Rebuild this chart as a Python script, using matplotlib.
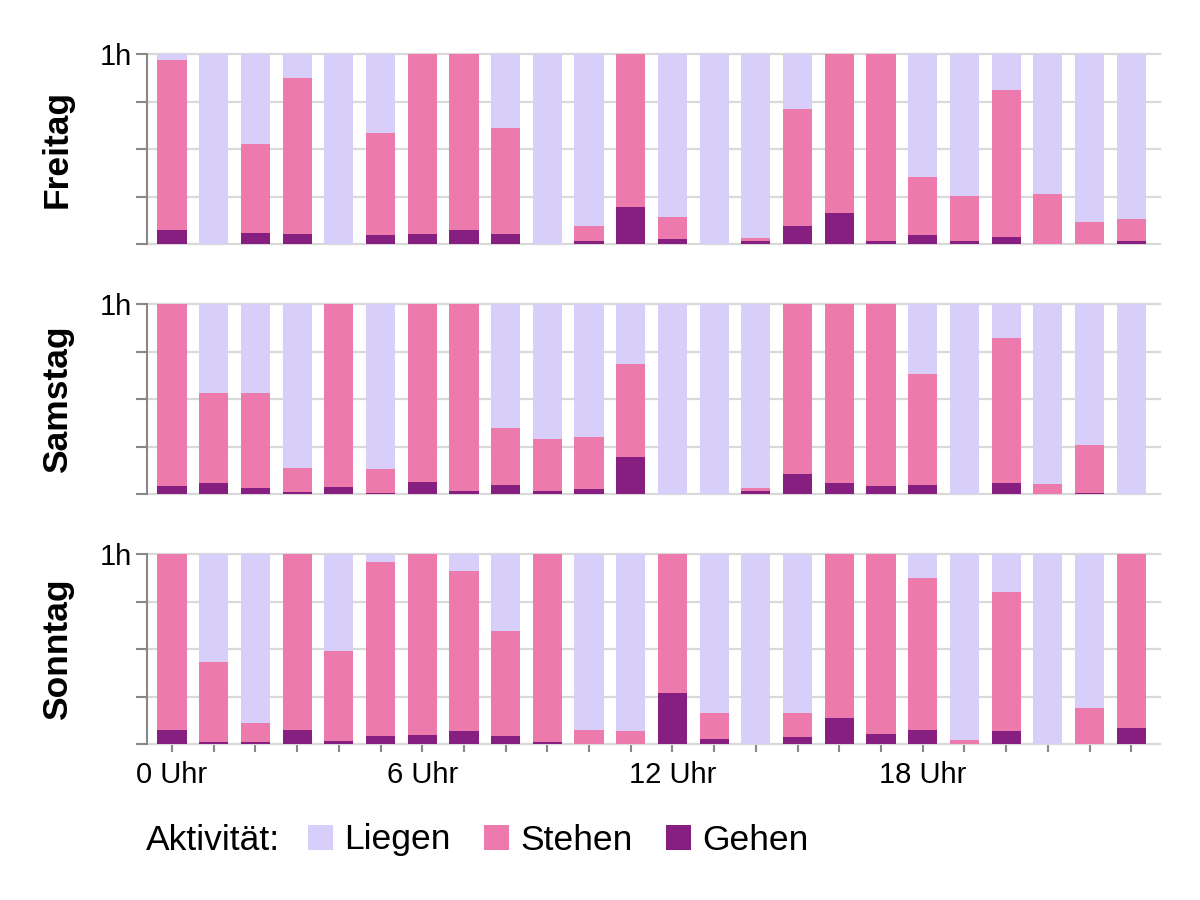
import numpy as np
import matplotlib
matplotlib.use("Agg")
import matplotlib.pyplot as plt
from matplotlib.patches import Patch

plt.rcParams["font.family"] = ["Liberation Sans", "DejaVu Sans"]

# DATA (minutes per hour)
hours = list(range(24))
days = ["Freitag", "Samstag", "Sonntag"]
activities = ["Liegen", "Stehen", "Gehen"]
colors = {"Liegen": "#d8cefa", "Stehen": "#ed7aac", "Gehen": "#861f80"}

freitag_gehen = [4.3, 0, 3.4, 3.1, 0, 2.8, 3.1, 4.5, 3.1, 0, 1.1, 11.6,
                 1.7, 0, 0.9, 5.8, 9.8, 1.0, 2.8, 1.0, 2.3, 0, 0, 1.0]
freitag_stehen = [53.7, 0, 28.2, 49.3, 0, 32.1, 56.9, 55.5, 33.6, 0, 4.6, 48.4,
                  6.8, 0, 0.9, 36.9, 50.2, 59.0, 18.3, 14.1, 46.4, 15.8, 7.1, 6.8]
freitag_liegen = [2.0, 60, 28.4, 7.6, 60, 25.1, 0, 0, 23.3, 60, 54.3, 0,
                  51.5, 60, 58.2, 17.3, 0, 0, 38.9, 44.9, 11.3, 44.2, 52.9, 52.2]

samstag_gehen = [2.6, 3.4, 1.8, 0.5, 2.2, 0.3, 3.9, 1.1, 2.8, 0.8, 1.5, 11.8,
                 0, 0, 1.0, 6.2, 3.4, 2.5, 2.9, 0, 3.4, 0, 0.3, 0]
samstag_stehen = [57.4, 28.4, 30.2, 7.6, 57.8, 7.5, 56.1, 58.9, 18.1, 16.7, 16.6, 29.2,
                  0, 0, 1.0, 53.8, 56.6, 57.5, 34.9, 0, 45.9, 3.1, 15.3, 0]
samstag_liegen = [0, 28.2, 28.0, 51.9, 0, 52.2, 0, 0, 39.1, 42.5, 41.9, 19.0,
                  60, 60, 58.0, 0, 0, 0, 22.2, 60, 10.7, 56.9, 44.4, 60]

sonntag_gehen = [4.4, 0.5, 0.5, 4.4, 1.1, 2.4, 2.9, 4.0, 2.4, 0.7, 0.1, 0,
                 16.2, 1.6, 0, 2.2, 8.2, 3.1, 4.4, 0, 4.1, 0, 0, 4.9]
sonntag_stehen = [55.6, 25.4, 6.0, 55.6, 28.4, 55.2, 57.1, 50.7, 33.2, 59.3, 4.4, 4.2,
                  43.8, 8.3, 0, 7.7, 51.8, 56.9, 47.9, 1.4, 43.8, 0, 11.3, 55.1]
sonntag_liegen = [0, 34.1, 53.5, 0, 30.5, 2.4, 0, 5.3, 24.4, 0, 55.5, 55.8,
                  0, 50.1, 60, 50.1, 0, 0, 7.7, 58.6, 12.1, 60, 48.7, 0]

data = {
    "Freitag": {"Gehen": freitag_gehen, "Stehen": freitag_stehen, "Liegen": freitag_liegen},
    "Samstag": {"Gehen": samstag_gehen, "Stehen": samstag_stehen, "Liegen": samstag_liegen},
    "Sonntag": {"Gehen": sonntag_gehen, "Stehen": sonntag_stehen, "Liegen": sonntag_liegen},
}

# LAYOUT
fig = plt.figure(figsize=(12, 9), dpi=100)
left = 147 / 1200
width = (1160 - 147) / 1200
height = 190 / 900
bottoms = [1 - 244 / 900, 1 - 494 / 900, 1 - 744 / 900]

tick_gray = "#888888"
grid_gray = "#d9d9d9"

for i, day in enumerate(days):
    ax = fig.add_axes([left, bottoms[i], width, height])
    x = np.array(hours)
    base = np.zeros(len(hours))
    for act in ["Gehen", "Stehen", "Liegen"]:
        vals = np.array(data[day][act]) / 60.0
        ax.bar(x, vals, width=0.7, bottom=base, color=colors[act], zorder=3)
        base = base + vals

    ax.set_xlim(-0.6, 23.69)
    ax.set_ylim(0, 1)
    ax.set_yticks([0, 0.25, 0.5, 0.75, 1.0])
    ax.set_yticklabels(["", "", "", "", "1h"], fontsize=21)
    ax.yaxis.grid(True, color=grid_gray, linewidth=1.6, zorder=0)
    ax.set_axisbelow(True)
    for g in ax.get_ygridlines():
        g.set_clip_on(False)

    for s in ["top", "right", "bottom"]:
        ax.spines[s].set_visible(False)
    ax.spines["left"].set_color(tick_gray)
    ax.spines["left"].set_linewidth(1.5)
    ax.tick_params(axis="y", direction="out", length=8, width=1.5,
                   color=tick_gray, pad=3)

    if i == 2:
        ax.set_xticks(hours)
        ax.set_xticklabels([f"{h} Uhr" if h % 6 == 0 else "" for h in hours],
                           fontsize=21)
        ax.tick_params(axis="x", direction="out", length=6, width=1.5,
                       color=tick_gray, pad=6)
    else:
        ax.set_xticks([])

    fig.text(0.048, bottoms[i] + height / 2, day, rotation=90,
             fontsize=25.5, fontweight="bold", ha="center", va="center")

# LEGEND
legend_y = 1 - 840 / 900
fig.text(146 / 1200, legend_y, "Aktivität:", fontsize=25.5,
         ha="left", va="center")
handles = [Patch(facecolor=colors[a], label=a) for a in activities]
fig.legend(handles=handles, loc="center left",
           bbox_to_anchor=(308 / 1200, legend_y), ncol=3, frameon=False,
           fontsize=25.5, handlelength=0.7, handleheight=0.7,
           handletextpad=0.32, columnspacing=0.95, borderpad=0,
           borderaxespad=0)

fig.savefig("out.png", dpi=100)
